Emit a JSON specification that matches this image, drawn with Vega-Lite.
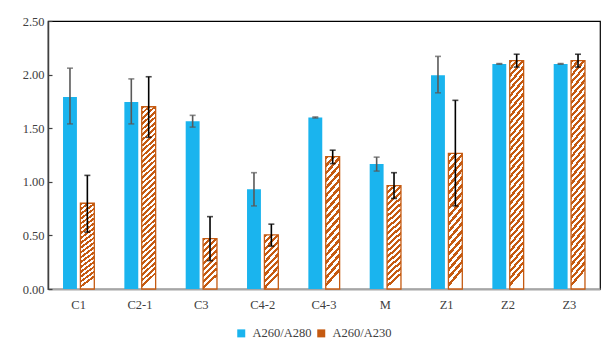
{
  "$schema": "https://vega.github.io/schema/vega-lite/v6.json",
  "width": 552,
  "height": 268,
  "autosize": {"type": "none"},
  "padding": {"left": 48, "top": 21, "right": 6, "bottom": 60},
  "background": "white",
  "config": {"view": {"stroke": "#000000", "strokeWidth": 1.2}, "font": "Liberation Serif"},
  "data": {"values": [
    {"cat": "C1", "series": "A260/A280", "value": 1.79, "lo": 1.54, "hi": 2.06},
    {"cat": "C1", "series": "A260/A230", "value": 0.80, "lo": 0.53, "hi": 1.06},
    {"cat": "C2-1", "series": "A260/A280", "value": 1.745, "lo": 1.54, "hi": 1.96},
    {"cat": "C2-1", "series": "A260/A230", "value": 1.70, "lo": 1.415, "hi": 1.98},
    {"cat": "C3", "series": "A260/A280", "value": 1.565, "lo": 1.51, "hi": 1.62},
    {"cat": "C3", "series": "A260/A230", "value": 0.47, "lo": 0.265, "hi": 0.675},
    {"cat": "C4-2", "series": "A260/A280", "value": 0.93, "lo": 0.775, "hi": 1.085},
    {"cat": "C4-2", "series": "A260/A230", "value": 0.505, "lo": 0.40, "hi": 0.605},
    {"cat": "C4-3", "series": "A260/A280", "value": 1.60, "lo": 1.595, "hi": 1.605},
    {"cat": "C4-3", "series": "A260/A230", "value": 1.235, "lo": 1.17, "hi": 1.295},
    {"cat": "M", "series": "A260/A280", "value": 1.165, "lo": 1.10, "hi": 1.23},
    {"cat": "M", "series": "A260/A230", "value": 0.965, "lo": 0.845, "hi": 1.085},
    {"cat": "Z1", "series": "A260/A280", "value": 1.995, "lo": 1.83, "hi": 2.17},
    {"cat": "Z1", "series": "A260/A230", "value": 1.265, "lo": 0.775, "hi": 1.76},
    {"cat": "Z2", "series": "A260/A280", "value": 2.10, "lo": 2.097, "hi": 2.103},
    {"cat": "Z2", "series": "A260/A230", "value": 2.13, "lo": 2.07, "hi": 2.19},
    {"cat": "Z3", "series": "A260/A280", "value": 2.10, "lo": 2.097, "hi": 2.103},
    {"cat": "Z3", "series": "A260/A230", "value": 2.13, "lo": 2.07, "hi": 2.19}
  ]},
  "encoding": {
    "x": {"field": "cat", "type": "nominal", "sort": null,
      "scale": {"paddingInner": 0.49, "paddingOuter": 0.245},
      "axis": {"title": null, "labelAngle": 0, "ticks": false, "domainColor": "#a6a6a6", "domainWidth": 2, "labelPadding": 9, "labelFontSize": 12.5, "labelFont": "Liberation Serif", "labelColor": "#404040"}},
    "xOffset": {"field": "series", "type": "nominal", "scale": {"domain": ["A260/A280", "A260/A230"], "paddingInner": 0.2}}
  },
  "layer": [
    {
      "mark": {"type": "bar", "strokeWidth": 1.3},
      "encoding": {
        "y": {"field": "value", "type": "quantitative", "scale": {"domain": [0, 2.5], "nice": false},
          "axis": {"title": null, "values": [0, 0.5, 1, 1.5, 2, 2.5], "format": ".2f", "grid": false, "ticks": true, "tickSize": -4, "tickColor": "#404040", "tickWidth": 1.2, "domainColor": "#404040", "domainWidth": 1.5, "labelFont": "Liberation Serif", "labelFontSize": 12.5, "labelColor": "#404040", "labelPadding": 8}},
        "stroke": {"condition": {"test": "datum.series === 'A260/A230'", "value": "#c55a11"}, "value": null},
        "fill": {
          "field": "series", "type": "nominal",
          "scale": {"domain": ["A260/A280", "A260/A230"], "range": ["#1ab4ee", "#c55a11"]},
          "legend": {"title": null, "orient": "none", "legendX": 187, "legendY": 306, "direction": "horizontal", "symbolType": "square", "symbolSize": 64, "labelFontSize": 12.5, "labelFont": "Liberation Serif", "labelColor": "#404040", "columnPadding": 3, "labelOffset": 5},
          "condition": [
            {"test": "datum.series === 'A260/A230' && (datum.cat === 'C3' || datum.cat === 'C4-2')",
             "value": {"gradient": "linear", "x1": 0, "y1": 0, "x2": 0.27, "y2": 1, "stops": [
              {"offset": 0, "color": "#c55a11"}, {"offset": 0.0556, "color": "#c55a11"}, {"offset": 0.0556, "color": "#fff"}, {"offset": 0.1111, "color": "#fff"},
              {"offset": 0.1111, "color": "#c55a11"}, {"offset": 0.1667, "color": "#c55a11"}, {"offset": 0.1667, "color": "#fff"}, {"offset": 0.2222, "color": "#fff"},
              {"offset": 0.2222, "color": "#c55a11"}, {"offset": 0.2778, "color": "#c55a11"}, {"offset": 0.2778, "color": "#fff"}, {"offset": 0.3333, "color": "#fff"},
              {"offset": 0.3333, "color": "#c55a11"}, {"offset": 0.3889, "color": "#c55a11"}, {"offset": 0.3889, "color": "#fff"}, {"offset": 0.4444, "color": "#fff"},
              {"offset": 0.4444, "color": "#c55a11"}, {"offset": 0.5, "color": "#c55a11"}, {"offset": 0.5, "color": "#fff"}, {"offset": 0.5556, "color": "#fff"},
              {"offset": 0.5556, "color": "#c55a11"}, {"offset": 0.6111, "color": "#c55a11"}, {"offset": 0.6111, "color": "#fff"}, {"offset": 0.6667, "color": "#fff"},
              {"offset": 0.6667, "color": "#c55a11"}, {"offset": 0.7222, "color": "#c55a11"}, {"offset": 0.7222, "color": "#fff"}, {"offset": 0.7778, "color": "#fff"},
              {"offset": 0.7778, "color": "#c55a11"}, {"offset": 0.8333, "color": "#c55a11"}, {"offset": 0.8333, "color": "#fff"}, {"offset": 0.8889, "color": "#fff"},
              {"offset": 0.8889, "color": "#c55a11"}, {"offset": 0.9444, "color": "#c55a11"}, {"offset": 0.9444, "color": "#fff"}, {"offset": 1, "color": "#fff"}]}},
            {"test": "datum.series === 'A260/A230' && (datum.cat === 'C2-1' || datum.cat === 'Z2' || datum.cat === 'Z3')",
             "value": {"gradient": "linear", "x1": 0, "y1": 0, "x2": 0.07, "y2": 1, "stops": [
              {"offset": 0, "color": "#c55a11"}, {"offset": 0.0147, "color": "#c55a11"}, {"offset": 0.0147, "color": "#fff"}, {"offset": 0.0294, "color": "#fff"},
              {"offset": 0.0294, "color": "#c55a11"}, {"offset": 0.0441, "color": "#c55a11"}, {"offset": 0.0441, "color": "#fff"}, {"offset": 0.0588, "color": "#fff"},
              {"offset": 0.0588, "color": "#c55a11"}, {"offset": 0.0735, "color": "#c55a11"}, {"offset": 0.0735, "color": "#fff"}, {"offset": 0.0882, "color": "#fff"},
              {"offset": 0.0882, "color": "#c55a11"}, {"offset": 0.1029, "color": "#c55a11"}, {"offset": 0.1029, "color": "#fff"}, {"offset": 0.1176, "color": "#fff"},
              {"offset": 0.1176, "color": "#c55a11"}, {"offset": 0.1324, "color": "#c55a11"}, {"offset": 0.1324, "color": "#fff"}, {"offset": 0.1471, "color": "#fff"},
              {"offset": 0.1471, "color": "#c55a11"}, {"offset": 0.1618, "color": "#c55a11"}, {"offset": 0.1618, "color": "#fff"}, {"offset": 0.1765, "color": "#fff"},
              {"offset": 0.1765, "color": "#c55a11"}, {"offset": 0.1912, "color": "#c55a11"}, {"offset": 0.1912, "color": "#fff"}, {"offset": 0.2059, "color": "#fff"},
              {"offset": 0.2059, "color": "#c55a11"}, {"offset": 0.2206, "color": "#c55a11"}, {"offset": 0.2206, "color": "#fff"}, {"offset": 0.2353, "color": "#fff"},
              {"offset": 0.2353, "color": "#c55a11"}, {"offset": 0.25, "color": "#c55a11"}, {"offset": 0.25, "color": "#fff"}, {"offset": 0.2647, "color": "#fff"},
              {"offset": 0.2647, "color": "#c55a11"}, {"offset": 0.2794, "color": "#c55a11"}, {"offset": 0.2794, "color": "#fff"}, {"offset": 0.2941, "color": "#fff"},
              {"offset": 0.2941, "color": "#c55a11"}, {"offset": 0.3088, "color": "#c55a11"}, {"offset": 0.3088, "color": "#fff"}, {"offset": 0.3235, "color": "#fff"},
              {"offset": 0.3235, "color": "#c55a11"}, {"offset": 0.3382, "color": "#c55a11"}, {"offset": 0.3382, "color": "#fff"}, {"offset": 0.3529, "color": "#fff"},
              {"offset": 0.3529, "color": "#c55a11"}, {"offset": 0.3676, "color": "#c55a11"}, {"offset": 0.3676, "color": "#fff"}, {"offset": 0.3824, "color": "#fff"},
              {"offset": 0.3824, "color": "#c55a11"}, {"offset": 0.3971, "color": "#c55a11"}, {"offset": 0.3971, "color": "#fff"}, {"offset": 0.4118, "color": "#fff"},
              {"offset": 0.4118, "color": "#c55a11"}, {"offset": 0.4265, "color": "#c55a11"}, {"offset": 0.4265, "color": "#fff"}, {"offset": 0.4412, "color": "#fff"},
              {"offset": 0.4412, "color": "#c55a11"}, {"offset": 0.4559, "color": "#c55a11"}, {"offset": 0.4559, "color": "#fff"}, {"offset": 0.4706, "color": "#fff"},
              {"offset": 0.4706, "color": "#c55a11"}, {"offset": 0.4853, "color": "#c55a11"}, {"offset": 0.4853, "color": "#fff"}, {"offset": 0.5, "color": "#fff"},
              {"offset": 0.5, "color": "#c55a11"}, {"offset": 0.5147, "color": "#c55a11"}, {"offset": 0.5147, "color": "#fff"}, {"offset": 0.5294, "color": "#fff"},
              {"offset": 0.5294, "color": "#c55a11"}, {"offset": 0.5441, "color": "#c55a11"}, {"offset": 0.5441, "color": "#fff"}, {"offset": 0.5588, "color": "#fff"},
              {"offset": 0.5588, "color": "#c55a11"}, {"offset": 0.5735, "color": "#c55a11"}, {"offset": 0.5735, "color": "#fff"}, {"offset": 0.5882, "color": "#fff"},
              {"offset": 0.5882, "color": "#c55a11"}, {"offset": 0.6029, "color": "#c55a11"}, {"offset": 0.6029, "color": "#fff"}, {"offset": 0.6176, "color": "#fff"},
              {"offset": 0.6176, "color": "#c55a11"}, {"offset": 0.6324, "color": "#c55a11"}, {"offset": 0.6324, "color": "#fff"}, {"offset": 0.6471, "color": "#fff"},
              {"offset": 0.6471, "color": "#c55a11"}, {"offset": 0.6618, "color": "#c55a11"}, {"offset": 0.6618, "color": "#fff"}, {"offset": 0.6765, "color": "#fff"},
              {"offset": 0.6765, "color": "#c55a11"}, {"offset": 0.6912, "color": "#c55a11"}, {"offset": 0.6912, "color": "#fff"}, {"offset": 0.7059, "color": "#fff"},
              {"offset": 0.7059, "color": "#c55a11"}, {"offset": 0.7206, "color": "#c55a11"}, {"offset": 0.7206, "color": "#fff"}, {"offset": 0.7353, "color": "#fff"},
              {"offset": 0.7353, "color": "#c55a11"}, {"offset": 0.75, "color": "#c55a11"}, {"offset": 0.75, "color": "#fff"}, {"offset": 0.7647, "color": "#fff"},
              {"offset": 0.7647, "color": "#c55a11"}, {"offset": 0.7794, "color": "#c55a11"}, {"offset": 0.7794, "color": "#fff"}, {"offset": 0.7941, "color": "#fff"},
              {"offset": 0.7941, "color": "#c55a11"}, {"offset": 0.8088, "color": "#c55a11"}, {"offset": 0.8088, "color": "#fff"}, {"offset": 0.8235, "color": "#fff"},
              {"offset": 0.8235, "color": "#c55a11"}, {"offset": 0.8382, "color": "#c55a11"}, {"offset": 0.8382, "color": "#fff"}, {"offset": 0.8529, "color": "#fff"},
              {"offset": 0.8529, "color": "#c55a11"}, {"offset": 0.8676, "color": "#c55a11"}, {"offset": 0.8676, "color": "#fff"}, {"offset": 0.8824, "color": "#fff"},
              {"offset": 0.8824, "color": "#c55a11"}, {"offset": 0.8971, "color": "#c55a11"}, {"offset": 0.8971, "color": "#fff"}, {"offset": 0.9118, "color": "#fff"},
              {"offset": 0.9118, "color": "#c55a11"}, {"offset": 0.9265, "color": "#c55a11"}, {"offset": 0.9265, "color": "#fff"}, {"offset": 0.9412, "color": "#fff"},
              {"offset": 0.9412, "color": "#c55a11"}, {"offset": 0.9559, "color": "#c55a11"}, {"offset": 0.9559, "color": "#fff"}, {"offset": 0.9706, "color": "#fff"},
              {"offset": 0.9706, "color": "#c55a11"}, {"offset": 0.9853, "color": "#c55a11"}, {"offset": 0.9853, "color": "#fff"}, {"offset": 1, "color": "#fff"}]}},
            {"test": "datum.series === 'A260/A230'",
             "value": {"gradient": "linear", "x1": 0, "y1": 0, "x2": 0.12, "y2": 1, "stops": [
              {"offset": 0, "color": "#c55a11"}, {"offset": 0.0278, "color": "#c55a11"}, {"offset": 0.0278, "color": "#fff"}, {"offset": 0.0556, "color": "#fff"},
              {"offset": 0.0556, "color": "#c55a11"}, {"offset": 0.0833, "color": "#c55a11"}, {"offset": 0.0833, "color": "#fff"}, {"offset": 0.1111, "color": "#fff"},
              {"offset": 0.1111, "color": "#c55a11"}, {"offset": 0.1389, "color": "#c55a11"}, {"offset": 0.1389, "color": "#fff"}, {"offset": 0.1667, "color": "#fff"},
              {"offset": 0.1667, "color": "#c55a11"}, {"offset": 0.1944, "color": "#c55a11"}, {"offset": 0.1944, "color": "#fff"}, {"offset": 0.2222, "color": "#fff"},
              {"offset": 0.2222, "color": "#c55a11"}, {"offset": 0.25, "color": "#c55a11"}, {"offset": 0.25, "color": "#fff"}, {"offset": 0.2778, "color": "#fff"},
              {"offset": 0.2778, "color": "#c55a11"}, {"offset": 0.3056, "color": "#c55a11"}, {"offset": 0.3056, "color": "#fff"}, {"offset": 0.3333, "color": "#fff"},
              {"offset": 0.3333, "color": "#c55a11"}, {"offset": 0.3611, "color": "#c55a11"}, {"offset": 0.3611, "color": "#fff"}, {"offset": 0.3889, "color": "#fff"},
              {"offset": 0.3889, "color": "#c55a11"}, {"offset": 0.4167, "color": "#c55a11"}, {"offset": 0.4167, "color": "#fff"}, {"offset": 0.4444, "color": "#fff"},
              {"offset": 0.4444, "color": "#c55a11"}, {"offset": 0.4722, "color": "#c55a11"}, {"offset": 0.4722, "color": "#fff"}, {"offset": 0.5, "color": "#fff"},
              {"offset": 0.5, "color": "#c55a11"}, {"offset": 0.5278, "color": "#c55a11"}, {"offset": 0.5278, "color": "#fff"}, {"offset": 0.5556, "color": "#fff"},
              {"offset": 0.5556, "color": "#c55a11"}, {"offset": 0.5833, "color": "#c55a11"}, {"offset": 0.5833, "color": "#fff"}, {"offset": 0.6111, "color": "#fff"},
              {"offset": 0.6111, "color": "#c55a11"}, {"offset": 0.6389, "color": "#c55a11"}, {"offset": 0.6389, "color": "#fff"}, {"offset": 0.6667, "color": "#fff"},
              {"offset": 0.6667, "color": "#c55a11"}, {"offset": 0.6944, "color": "#c55a11"}, {"offset": 0.6944, "color": "#fff"}, {"offset": 0.7222, "color": "#fff"},
              {"offset": 0.7222, "color": "#c55a11"}, {"offset": 0.75, "color": "#c55a11"}, {"offset": 0.75, "color": "#fff"}, {"offset": 0.7778, "color": "#fff"},
              {"offset": 0.7778, "color": "#c55a11"}, {"offset": 0.8056, "color": "#c55a11"}, {"offset": 0.8056, "color": "#fff"}, {"offset": 0.8333, "color": "#fff"},
              {"offset": 0.8333, "color": "#c55a11"}, {"offset": 0.8611, "color": "#c55a11"}, {"offset": 0.8611, "color": "#fff"}, {"offset": 0.8889, "color": "#fff"},
              {"offset": 0.8889, "color": "#c55a11"}, {"offset": 0.9167, "color": "#c55a11"}, {"offset": 0.9167, "color": "#fff"}, {"offset": 0.9444, "color": "#fff"},
              {"offset": 0.9444, "color": "#c55a11"}, {"offset": 0.9722, "color": "#c55a11"}, {"offset": 0.9722, "color": "#fff"}, {"offset": 1, "color": "#fff"}]}}
          ]
        }
      }
    },
    {
      "mark": {"type": "rule", "strokeWidth": 1.6},
      "encoding": {
        "y": {"field": "lo", "type": "quantitative", "scale": {"domain": [0, 2.5], "nice": false},
          "axis": {"title": null, "values": [0, 0.5, 1, 1.5, 2, 2.5], "format": ".2f", "grid": false, "ticks": true, "tickSize": -4, "tickColor": "#404040", "tickWidth": 1.2, "domainColor": "#404040", "domainWidth": 1.5, "labelFont": "Liberation Serif", "labelFontSize": 12.5, "labelColor": "#404040", "labelPadding": 8}},
        "y2": {"field": "hi"},
        "color": {"condition": {"test": "datum.series === 'A260/A230'", "value": "#000000"}, "value": "#595959"}
      }
    },
    {
      "mark": {"type": "tick", "thickness": 1.6, "size": 6},
      "encoding": {
        "y": {"field": "lo", "type": "quantitative", "scale": {"domain": [0, 2.5], "nice": false},
          "axis": {"title": null, "values": [0, 0.5, 1, 1.5, 2, 2.5], "format": ".2f", "grid": false, "ticks": true, "tickSize": -4, "tickColor": "#404040", "tickWidth": 1.2, "domainColor": "#404040", "domainWidth": 1.5, "labelFont": "Liberation Serif", "labelFontSize": 12.5, "labelColor": "#404040", "labelPadding": 8}},
        "color": {"condition": {"test": "datum.series === 'A260/A230'", "value": "#000000"}, "value": "#595959"}
      }
    },
    {
      "mark": {"type": "tick", "thickness": 1.6, "size": 6},
      "encoding": {
        "y": {"field": "hi", "type": "quantitative", "scale": {"domain": [0, 2.5], "nice": false},
          "axis": {"title": null, "values": [0, 0.5, 1, 1.5, 2, 2.5], "format": ".2f", "grid": false, "ticks": true, "tickSize": -4, "tickColor": "#404040", "tickWidth": 1.2, "domainColor": "#404040", "domainWidth": 1.5, "labelFont": "Liberation Serif", "labelFontSize": 12.5, "labelColor": "#404040", "labelPadding": 8}},
        "color": {"condition": {"test": "datum.series === 'A260/A230'", "value": "#000000"}, "value": "#595959"}
      }
    }
  ]
}
